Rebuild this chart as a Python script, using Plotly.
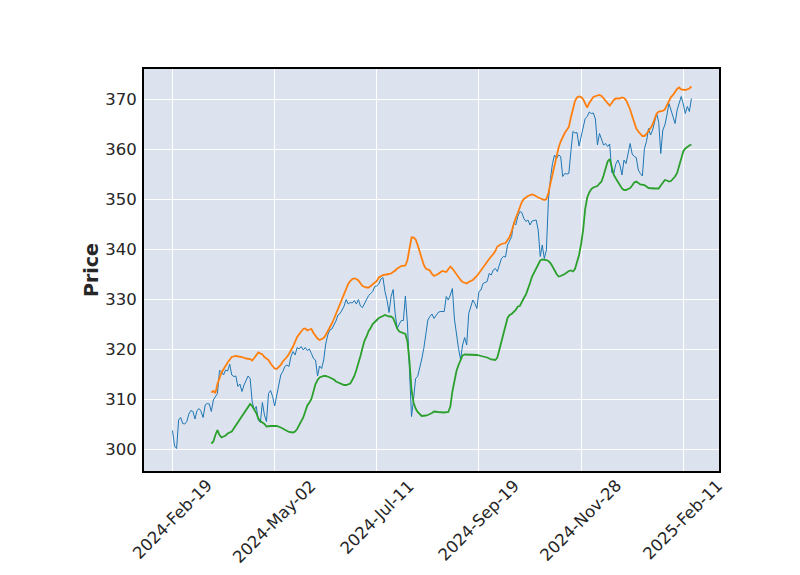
import plotly.graph_objects as go

# x positions are trading-day indices; tick labels give the dates
tick_idx = [0, 50, 100, 150, 200, 250]
tick_labels = ["2024-Feb-19", "2024-May-02", "2024-Jul-11",
               "2024-Sep-19", "2024-Nov-28", "2025-Feb-11"]
y_ticks = [300, 310, 320, 330, 340, 350, 360, 370]

close = [
    303.7, 300.6, 300.1, 305.8, 306.3, 305.1, 305.0, 305.5, 307.0, 307.7,
    307.5, 306.0, 307.7, 308.1, 307.5, 306.3, 308.8, 309.1, 309.0, 307.5,
    309.8, 310.5, 311.1, 315.7, 315.5, 314.8, 315.8, 315.6, 317.0, 314.8,
    314.5, 314.6, 312.5, 313.0, 311.5, 312.8, 313.7, 314.6, 314.1, 309.5,
    307.8, 308.5, 305.8, 305.3, 309.3, 306.8, 305.5, 311.1, 311.7, 310.5,
    308.6, 310.5, 312.8, 314.8, 315.5, 316.5, 316.8, 316.5, 318.5, 319.5,
    318.8, 320.3, 320.0, 320.5, 319.8, 320.3, 319.7, 320.0, 319.1, 318.1,
    317.8, 314.6, 316.6, 316.1, 317.8, 321.0, 322.8, 323.8, 324.0, 324.8,
    325.6, 326.8, 327.1, 327.8, 328.6, 329.9, 329.0, 329.3, 329.2, 329.7,
    329.0, 329.9, 328.6, 328.3, 329.1, 330.0, 330.7, 331.1, 331.5, 332.5,
    332.6, 333.0, 334.0, 334.3, 331.5, 329.8, 327.3, 330.5, 331.9, 327.0,
    324.1, 325.0, 325.7, 325.7, 330.6, 325.0, 315.0, 306.5, 310.0, 314.1,
    314.5, 316.1, 318.0, 320.1, 323.5, 325.8, 326.5, 327.0, 326.1, 326.8,
    327.3, 327.5, 327.5, 327.5, 330.5, 329.8, 330.8, 332.1, 326.0, 322.5,
    320.1, 317.9, 320.8, 322.3, 320.8, 327.1, 328.5, 329.8, 329.1, 328.1,
    331.5, 331.8, 333.1, 333.3, 333.5, 335.1, 334.8, 335.8, 336.1, 335.5,
    337.0, 338.1, 338.5, 338.4, 340.8, 341.8, 342.5, 345.3, 344.8, 346.5,
    347.5, 347.3, 346.1, 345.5, 345.8, 344.8, 345.6, 345.7, 345.8, 343.8,
    338.5, 340.8, 338.1, 339.8, 349.8, 354.1, 357.1, 358.8, 358.1, 358.8,
    358.5, 354.5, 355.1, 355.0, 355.1, 359.5, 363.5, 363.2, 363.3, 360.6,
    362.5, 363.8, 366.1, 366.5, 367.4, 367.1, 367.2, 366.0, 360.8, 363.1,
    361.8, 360.8, 361.1, 360.5, 361.0, 355.3, 355.1, 357.0, 357.8, 356.8,
    354.8, 357.8, 357.1, 359.5, 361.1, 359.0, 358.5, 358.3, 355.8, 355.1,
    354.6, 360.1, 361.5, 364.1, 362.8, 363.8, 365.8, 367.1, 365.3, 359.1,
    363.8, 364.8, 366.8, 369.1, 367.8, 366.5, 365.1, 367.8, 369.0, 370.5,
    369.0, 367.1, 368.5, 367.5, 370.1,
]
close_idx = list(range(len(close)))

upper_idx = [19, 20, 21, 22, 24, 25, 27, 29, 31, 34, 36, 38, 39, 40, 42, 44, 45, 47, 48, 50,
             51, 53, 54, 56, 57, 59, 60, 61, 63, 64, 65, 66, 67, 68, 69, 70, 71, 72, 74, 75,
             76, 77, 78, 79, 80, 81, 82, 83, 84, 85, 86, 87, 88, 89, 90, 91, 92, 93, 95, 96,
             97, 98, 100, 101, 103, 106, 107, 109, 110, 112, 114, 115, 116, 117, 118, 119, 120, 121, 122, 123,
             124, 126, 127, 128, 130, 132, 134, 135, 136, 137, 138, 139, 140, 141, 142, 144, 145, 147, 149, 150,
             152, 154, 155, 157, 158, 159, 161, 163, 164, 165, 166, 167, 168, 169, 170, 171, 172, 174, 176, 177,
             179, 181, 182, 183, 184, 185, 186, 187, 188, 189, 190, 191, 192, 193, 194, 195, 196, 197, 198, 199,
             200, 201, 202, 203, 204, 205, 206, 208, 209, 210, 212, 213, 214, 215, 216, 217, 219, 220, 221, 222,
             223, 224, 225, 226, 227, 228, 229, 230, 231, 232, 234, 235, 236, 237, 238, 240, 241, 242, 243, 244,
             245, 246, 247, 248, 249, 251, 252, 253, 254]
upper = [311.3, 311.6, 311.2, 313.0, 315.3, 316.0, 317.3, 318.4, 318.6, 318.4, 318.1, 318.0, 317.7, 318.2, 319.3, 318.9, 318.4, 317.8, 317.1, 316.1,
         316.0, 316.8, 317.5, 318.4, 319.0, 320.5, 321.6, 322.4, 323.5, 324.0, 324.1, 323.7, 323.9, 324.0, 323.2, 322.6, 322.1, 321.8, 322.2, 322.8,
         323.5, 324.2, 325.1, 326.0, 327.0, 327.9, 328.9, 329.8, 331.0, 332.1, 333.0, 333.6, 334.0, 334.1, 334.0, 333.7, 333.1, 332.6, 332.3, 332.3,
         332.6, 333.0, 333.6, 334.3, 334.8, 335.0, 335.1, 335.7, 336.1, 336.6, 336.7, 337.8, 340.5, 342.3, 342.3, 341.9, 340.8, 339.4, 338.0, 336.8,
         336.1, 335.7, 335.0, 334.6, 335.0, 335.6, 335.4, 335.9, 336.5, 336.1, 335.5, 334.9, 334.3, 333.8, 333.4, 333.1, 333.4, 333.8, 334.6, 335.2,
         336.3, 337.5, 338.0, 339.0, 339.6, 340.5, 341.0, 341.2, 341.8, 342.4, 343.6, 345.0, 346.2, 347.2, 348.5, 349.4, 350.0, 350.6, 350.9, 350.8,
         350.3, 349.9, 349.8, 350.0, 351.2, 353.1, 355.0, 356.8, 358.8, 360.3, 361.5, 362.5, 363.2, 363.8, 364.4, 366.3, 368.0, 369.6, 370.3, 370.5,
         370.4, 370.0, 369.1, 368.3, 369.2, 369.9, 370.4, 370.7, 370.8, 370.6, 369.6, 369.0, 368.7, 369.2, 369.8, 370.1, 370.1, 370.3, 370.2, 369.8,
         369.0, 367.9, 366.6, 365.2, 364.1, 363.5, 363.0, 362.6, 362.6, 363.0, 364.2, 364.9, 366.0, 367.1, 367.5, 367.6, 367.9, 368.8, 369.8, 370.4,
         370.8, 371.4, 372.0, 372.3, 371.9, 371.8, 371.9, 372.1, 372.5]

lower_idx = [19, 20, 21, 22, 23, 24, 26, 27, 29, 30, 31, 32, 33, 34, 35, 36, 37, 38, 39, 40,
             41, 42, 43, 45, 46, 48, 49, 51, 53, 55, 57, 59, 60, 61, 62, 63, 64, 65, 66, 67,
             68, 69, 70, 71, 72, 74, 75, 77, 79, 80, 82, 84, 85, 87, 88, 89, 90, 91, 92, 93,
             94, 95, 96, 97, 98, 100, 101, 103, 104, 106, 107, 108, 109, 110, 111, 113, 114, 115, 116, 117,
             118, 119, 120, 121, 122, 124, 125, 127, 128, 130, 133, 135, 136, 137, 138, 139, 140, 141, 142, 143,
             145, 147, 149, 151, 154, 156, 158, 159, 160, 161, 162, 163, 164, 165, 166, 168, 169, 170, 171, 172,
             173, 174, 175, 176, 177, 178, 179, 180, 181, 182, 183, 184, 185, 186, 187, 188, 189, 190, 192, 194,
             195, 196, 197, 198, 199, 200, 201, 202, 203, 204, 205, 206, 208, 209, 210, 211, 212, 213, 214, 215,
             216, 217, 218, 219, 220, 221, 222, 223, 224, 225, 226, 227, 228, 229, 231, 232, 233, 236, 238, 239,
             240, 241, 242, 243, 244, 245, 246, 247, 248, 249, 250, 251, 252, 253, 254]
lower = [301.1, 301.5, 302.8, 303.8, 302.8, 302.3, 302.7, 303.1, 303.5, 304.1, 304.6, 305.2, 305.8, 306.6, 307.2, 307.8, 308.4, 309.0, 308.6, 308.0,
         307.2, 306.1, 305.6, 305.0, 304.5, 304.6, 304.6, 304.6, 304.3, 303.8, 303.4, 303.3, 303.5, 304.0, 304.8, 305.7, 306.3, 307.5, 308.7, 309.3,
         310.0, 311.5, 313.0, 313.8, 314.3, 314.6, 314.6, 314.3, 313.9, 313.5, 313.1, 312.8, 312.8, 313.1, 313.8, 314.6, 315.8, 317.0, 318.6, 320.2,
         321.7, 322.5, 323.6, 324.2, 325.0, 325.8, 326.2, 326.6, 326.8, 326.5, 326.5, 326.2, 325.0, 324.1, 323.5, 323.1, 323.0, 321.5, 317.5, 311.8,
         309.3, 308.1, 307.4, 307.0, 306.6, 306.7, 306.8, 307.2, 307.5, 307.4, 307.3, 307.4, 308.5, 311.5, 313.5, 315.6, 316.8, 317.8, 318.7, 318.9,
         318.9, 318.9, 318.8, 318.6, 318.3, 317.9, 317.8, 318.3, 320.0, 321.3, 323.0, 324.8, 326.2, 326.8, 327.0, 327.8, 328.5, 328.6, 329.5, 330.2,
         330.9, 331.9, 333.2, 334.5, 335.3, 336.3, 337.2, 337.7, 337.9, 337.9, 337.8, 337.6, 337.2, 336.5, 335.6, 335.0, 334.5, 334.6, 335.0, 335.6,
         335.7, 335.5, 336.0, 337.2, 338.8, 341.0, 343.8, 348.0, 350.3, 351.3, 352.0, 352.3, 352.6, 353.1, 353.5, 354.7, 356.0, 357.5, 358.0, 356.2,
         354.8, 354.1, 353.5, 352.8, 352.1, 351.8, 351.8, 352.0, 352.2, 352.7, 353.3, 353.5, 353.1, 352.9, 352.8, 352.4, 352.2, 352.1, 352.1, 352.7,
         353.3, 353.8, 353.7, 353.5, 353.6, 354.0, 354.5, 355.2, 356.8, 358.4, 359.5, 360.1, 360.5, 360.7, 360.9]

FONT = "DejaVu Sans"
TXT = "#262626"
FS = 16.5

fig = go.Figure()
fig.add_trace(go.Scatter(x=close_idx, y=close, mode="lines",
                         line=dict(color="#1f77b4", width=1), showlegend=False))
fig.add_trace(go.Scatter(x=upper_idx, y=upper, mode="lines",
                         line=dict(color="#ff7f0e", width=1.8), showlegend=False))
fig.add_trace(go.Scatter(x=lower_idx, y=lower, mode="lines",
                         line=dict(color="#2ca02c", width=1.8), showlegend=False))

# rotated date labels, centred under each tick (matplotlib style)
for xi, lab in zip(tick_idx, tick_labels):
    fig.add_annotation(x=xi, xref="x", y=-0.010, yref="paper",
                       text=lab, textangle=-45, showarrow=False,
                       xanchor="center", yanchor="top", borderpad=0,
                       font=dict(family=FONT, size=FS, color=TXT))

fig.update_layout(
    width=800, height=575,
    margin=dict(l=144, r=81, t=69, b=104, pad=0),
    paper_bgcolor="white",
    plot_bgcolor="#DCE3EF",
    font=dict(family=FONT, size=FS, color=TXT),
    hovermode=False,
)
fig.update_xaxes(
    range=[-13.95, 267.5],
    tickmode="array", tickvals=tick_idx, showticklabels=False,
    showgrid=True, gridcolor="white", gridwidth=1,
    zeroline=False, showline=True, mirror=True, linecolor="black", linewidth=2,
)
fig.update_yaxes(
    range=[295.6, 376.0],
    tickmode="array", tickvals=y_ticks,
    showgrid=True, gridcolor="white", gridwidth=1,
    zeroline=False, showline=True, mirror=True, linecolor="black", linewidth=2,
    ticks="outside", ticklen=2, tickcolor="rgba(0,0,0,0)",
    tickfont=dict(family=FONT, size=FS, color=TXT),
    title=dict(text="<b>Price</b>", font=dict(family=FONT, size=19, color=TXT), standoff=2),
)

fig.write_html("out.html")
